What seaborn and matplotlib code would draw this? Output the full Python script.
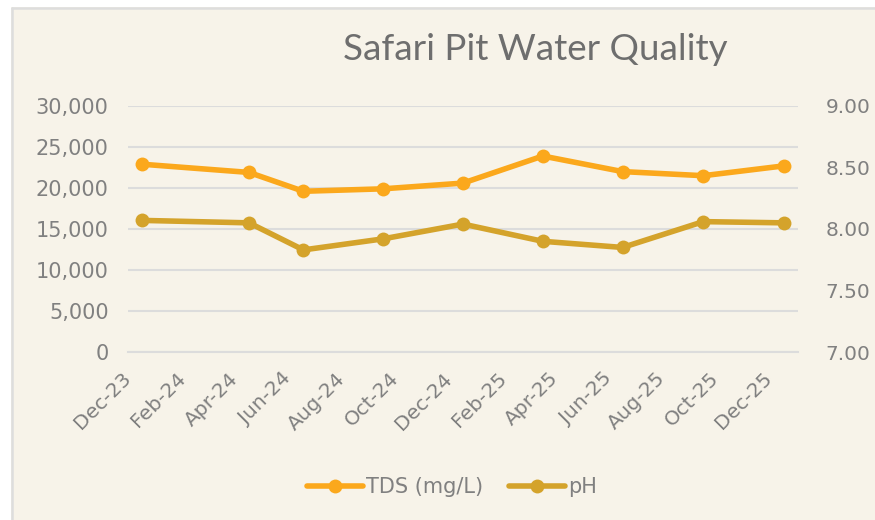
import numpy as np
import pandas as pd
import matplotlib
matplotlib.use("Agg")
import matplotlib.pyplot as plt
import matplotlib.dates as mdates
from matplotlib.patches import Rectangle
from matplotlib.lines import Line2D
from matplotlib.ticker import MultipleLocator, FuncFormatter
import seaborn as sns

# ---- data ----
sample_dates = ["2023-12-17", "2024-04-17", "2024-06-18", "2024-09-17", "2024-12-17",
                "2025-03-18", "2025-06-17", "2025-09-17", "2025-12-18"]
tds_values = [22900, 21900, 19600, 19900, 20600, 23900, 22000, 21500, 22700]
ph_values = [8.07, 8.05, 7.83, 7.92, 8.04, 7.90, 7.85, 8.06, 8.05]
title_text = "Safari Pit Water Quality"
tds_label = "TDS (mg/L)"
ph_label = "pH"

df = pd.DataFrame({"date": pd.to_datetime(sample_dates), "tds": tds_values, "ph": ph_values})

sns.set_style("white")
plt.rcParams["font.family"] = ["DejaVu Sans"]

BG = "#F7F3E9"
GRID = "#DCDCDC"
TICK = "#808080"
C_TDS = "#FBA81C"
C_PH = "#D4A32B"

fig = plt.figure(figsize=(8.75, 5.2), dpi=100)
fig.patch.set_facecolor(BG)
# white outer margin on the left and top, with a light grey border line
fig.patches.append(Rectangle((0, 0), 11 / 875, 1, transform=fig.transFigure,
                             facecolor="white", edgecolor="none", zorder=-9))
fig.patches.append(Rectangle((0, 1 - 6.5 / 520), 1, 6.5 / 520, transform=fig.transFigure,
                             facecolor="white", edgecolor="none", zorder=-9))
fig.lines.append(Line2D([12 / 875, 12 / 875], [0, 1 - 7.5 / 520], transform=fig.transFigure,
                        color="#DDDDDD", linewidth=1.8, zorder=-8))
fig.lines.append(Line2D([12 / 875, 1], [1 - 7.5 / 520, 1 - 7.5 / 520], transform=fig.transFigure,
                        color="#DDDDDD", linewidth=1.8, zorder=-8))

ax = fig.add_axes([128 / 875, 1 - 352 / 520, (798 - 128) / 875, (352 - 106) / 520])
ax.set_facecolor("none")
ax2 = ax.twinx()

sns.lineplot(data=df, x="date", y="tds", ax=ax, color=C_TDS, marker="o", markersize=10,
             markeredgewidth=0, linewidth=4, legend=False, zorder=3)
sns.lineplot(data=df, x="date", y="ph", ax=ax2, color=C_PH, marker="o", markersize=10,
             markeredgewidth=0, linewidth=4, legend=False, zorder=3)

ax.set_ylim(0, 30000)
ax2.set_ylim(7.0, 9.0)
ax.yaxis.set_major_locator(MultipleLocator(5000))
ax2.yaxis.set_major_locator(MultipleLocator(0.5))
ax.yaxis.set_major_formatter(FuncFormatter(lambda v, p: f"{int(v):,}"))
ax2.yaxis.set_major_formatter(FuncFormatter(lambda v, p: f"{v:.2f}"))

ax.set_xlim(pd.Timestamp("2023-12-01"), pd.Timestamp("2026-01-03"))
ax.xaxis.set_major_locator(mdates.MonthLocator(bymonth=[2, 4, 6, 8, 10, 12]))
ax.xaxis.set_major_formatter(mdates.DateFormatter("%b-%y"))

ax.grid(axis="y", color=GRID, linewidth=1.5)
ax.grid(axis="x", visible=False)
ax2.grid(False)
ax.set_axisbelow(True)

for a in (ax, ax2):
    for s in a.spines.values():
        s.set_visible(False)
    a.set_xlabel("")
    a.set_ylabel("")
ax.spines["bottom"].set_visible(True)
ax.spines["bottom"].set_color(GRID)
ax.spines["bottom"].set_linewidth(1.5)

ax.tick_params(axis="y", length=0, pad=14, labelsize=15, labelcolor=TICK)
ax2.tick_params(axis="y", length=0, pad=20, labelsize=14.5, labelcolor=TICK)
ax.tick_params(axis="x", length=5, width=1.5, color=GRID, direction="out", pad=12,
               labelsize=14.5, labelcolor=TICK)
for lbl in ax.get_xticklabels():
    lbl.set_rotation(45)
    lbl.set_ha("right")
    lbl.set_va("center")
    lbl.set_rotation_mode("anchor")

fig.text(535 / 875, 1 - 50 / 520, title_text, ha="center", va="center",
         fontsize=26.5, color="#6E6E6E", family=["Lato", "DejaVu Sans"], fontweight="normal")

handles = [Line2D([0], [0], color=C_TDS, linewidth=4, marker="o", markersize=10, markeredgewidth=0),
           Line2D([0], [0], color=C_PH, linewidth=4, marker="o", markersize=10, markeredgewidth=0)]
fig.legend(handles, [tds_label, ph_label], loc="center", bbox_to_anchor=(452 / 875, 1 - 487 / 520),
           ncol=2, frameon=False, fontsize=15, handlelength=2.7, handletextpad=0.15,
           columnspacing=1.2, labelcolor=TICK)

fig.savefig("out.png", dpi=100, facecolor=fig.get_facecolor())
